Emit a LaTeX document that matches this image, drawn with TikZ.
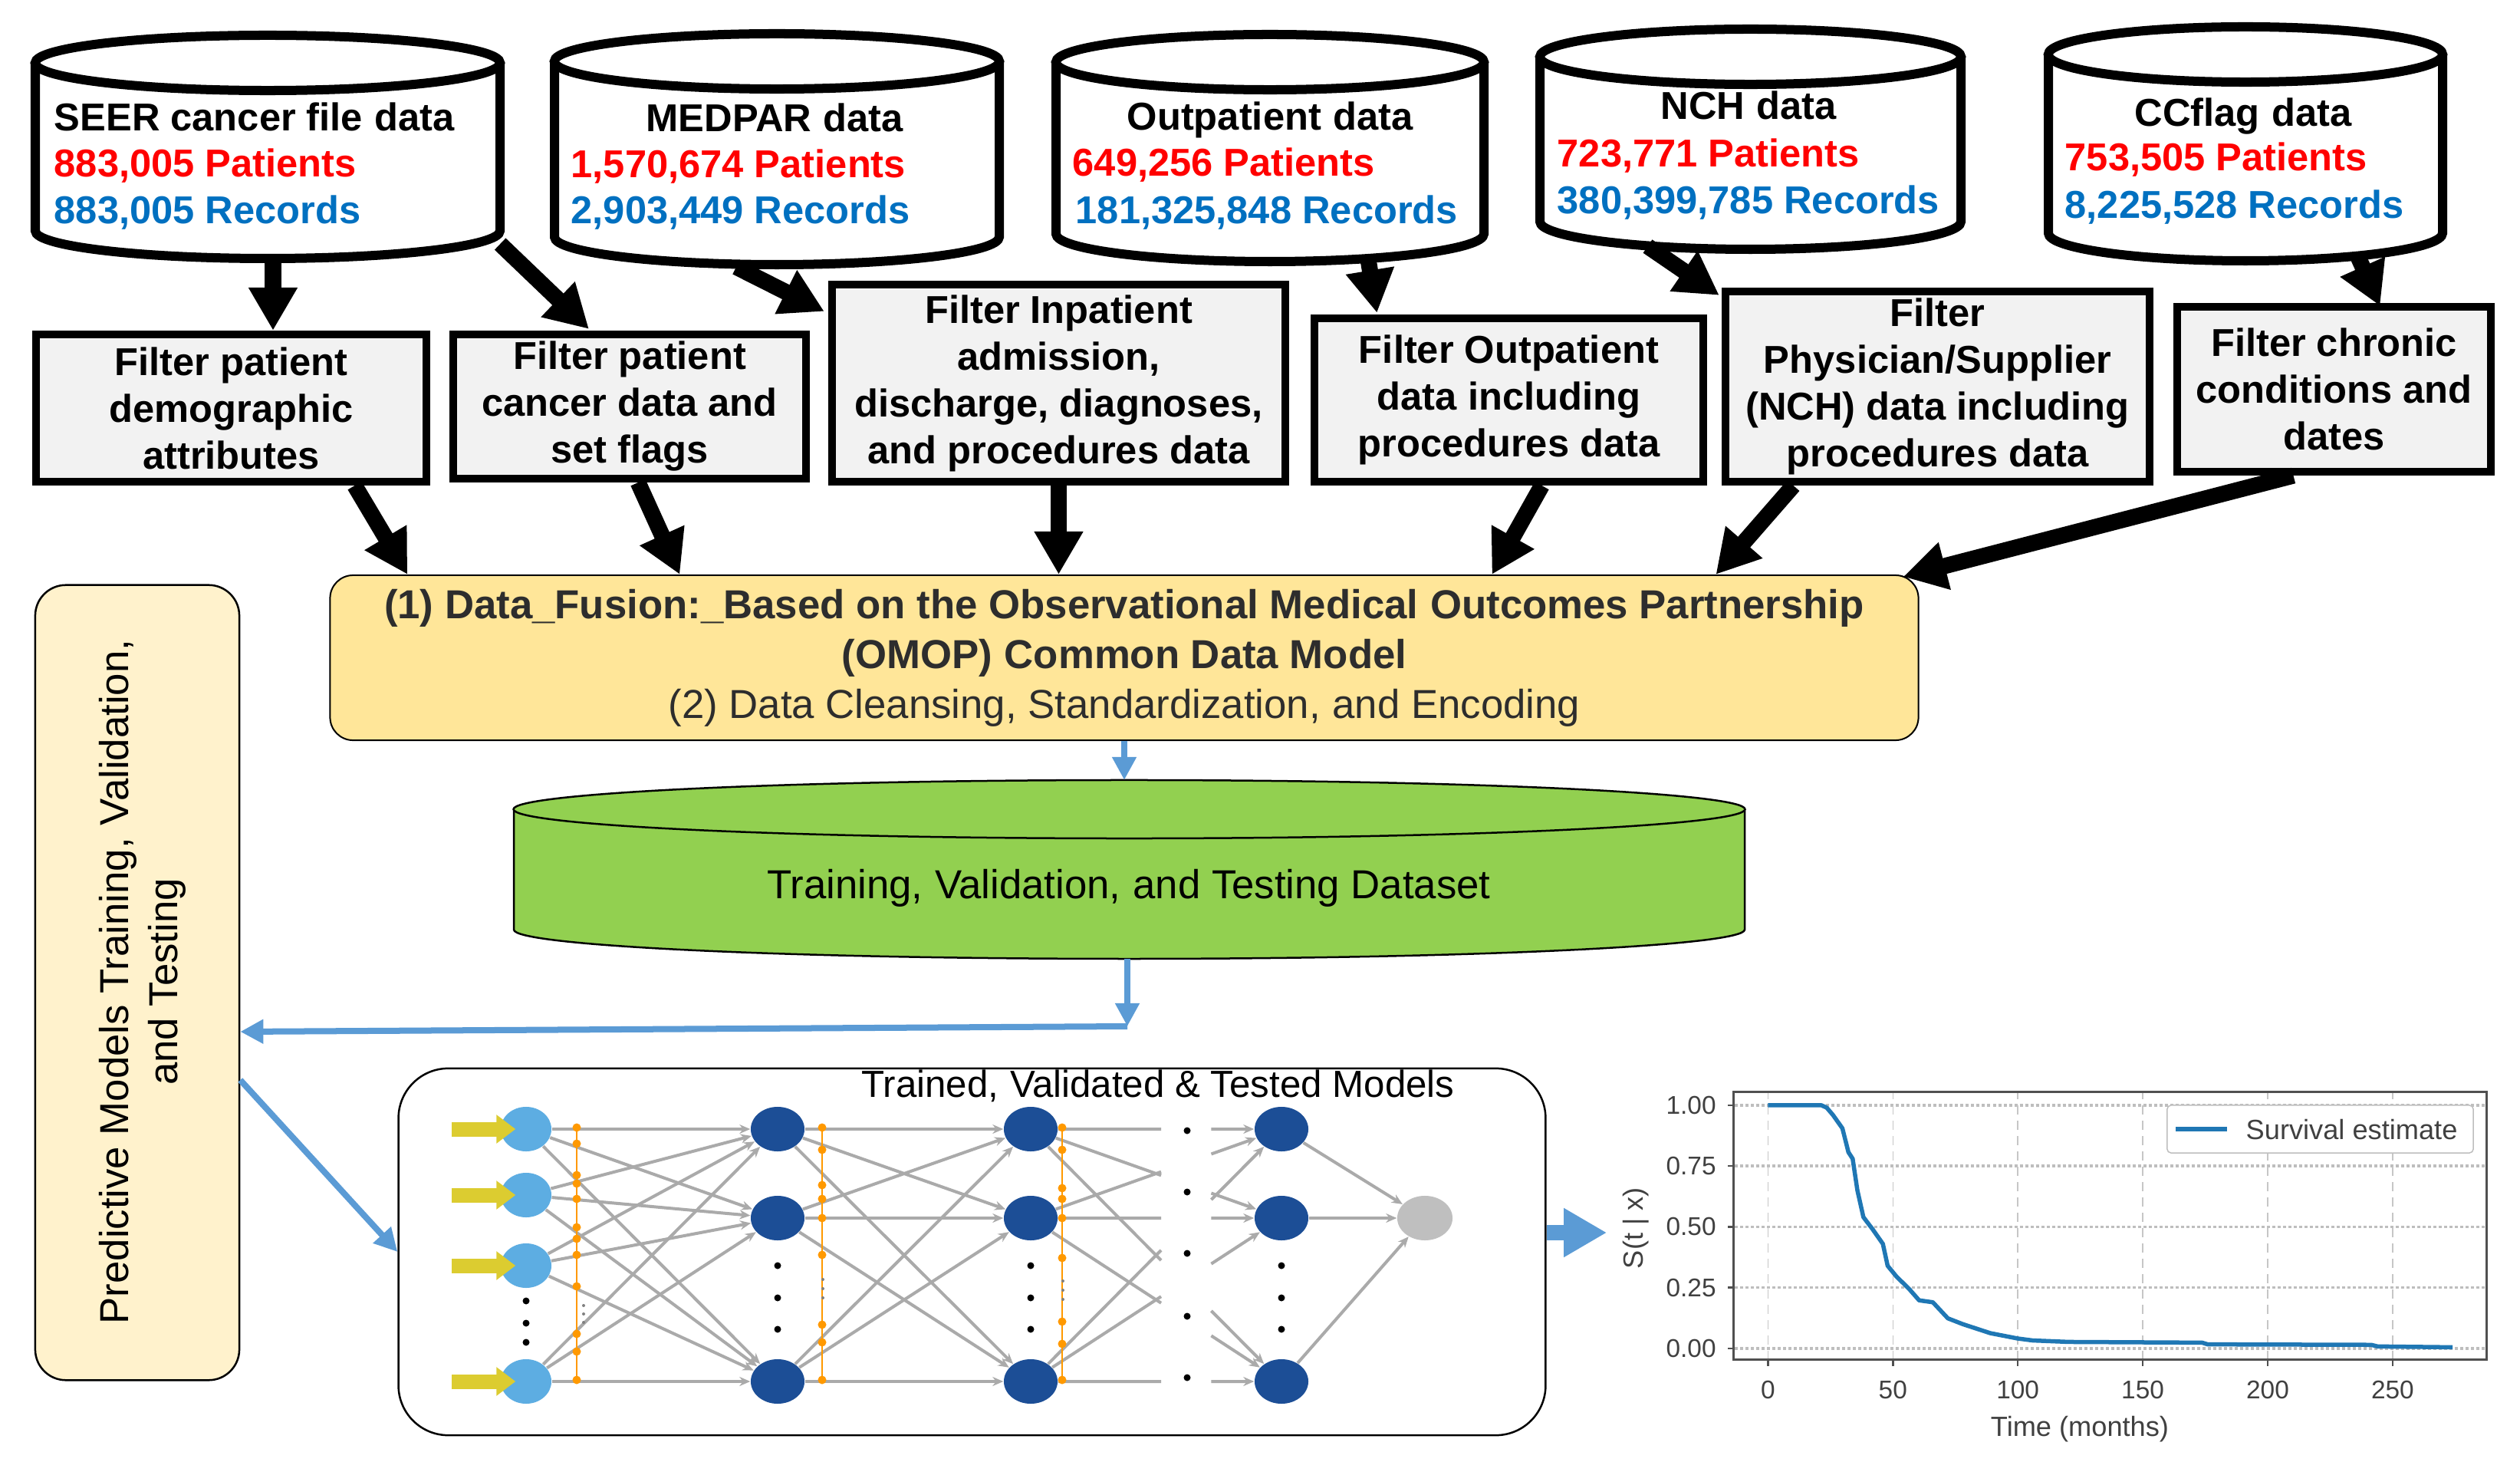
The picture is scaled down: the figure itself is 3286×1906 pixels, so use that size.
\documentclass[tikz,border=0pt]{standalone}
\usepackage{fontspec}
\setmainfont{Liberation Sans}
\usetikzlibrary{arrows.meta,calc,shapes.geometric}

\definecolor{cred}{RGB}{255,0,0}
\definecolor{cblue}{RGB}{0,112,192}
\definecolor{boxgray}{RGB}{242,242,242}
\definecolor{fusionfill}{RGB}{255,230,153}
\definecolor{fusetext}{RGB}{45,45,45}
\definecolor{leftfill}{RGB}{255,242,204}
\definecolor{greenfill}{RGB}{146,208,80}
\definecolor{arrowblue}{RGB}{91,155,213}
\definecolor{inblue}{RGB}{93,173,226}
\definecolor{hidblue}{RGB}{28,78,150}
\definecolor{outgray}{RGB}{191,191,191}
\definecolor{edgegray}{RGB}{170,170,170}
\definecolor{nnorange}{RGB}{255,153,0}
\definecolor{inyellow}{RGB}{220,204,48}
\definecolor{curveblue}{RGB}{31,119,180}
\definecolor{axisgray}{RGB}{80,80,80}
\definecolor{gridgray}{RGB}{190,190,190}
\definecolor{plottext}{RGB}{64,64,64}

% database cylinder: name, L, R, top, bottom, ry, line style, fill
\newcommand\dbcyl[8]{%
 \pgfmathsetmacro\dbcx{(#2+#3)/2}%
 \pgfmathsetmacro\dbrx{(#3-#2)/200}%
 \pgfmathsetmacro\dbry{#6/100}%
 \pgfmathsetmacro\dbyc{#4+#6}%
 \pgfmathsetmacro\dbyd{#5-#6}%
 \pgfmathsetmacro\dbka{\dbyd+0.5523*#6}%
 \pgfmathsetmacro\dbkl{\dbcx-0.5523*(#3-#2)/2}%
 \pgfmathsetmacro\dbkr{\dbcx+0.5523*(#3-#2)/2}%
 \pgfmathsetmacro\dbmy{(#4+#5)/2}%
 \pgfmathsetmacro\dbw{(#3-#2)/100}%
 \pgfmathsetmacro\dbh{(#5-#4)/100}%
 \path[fill=#8] (#2,\dbyc) -- (#2,\dbyd) .. controls (#2,\dbka) and (\dbkl,#5) .. (\dbcx,#5) .. controls (\dbkr,#5) and (#3,\dbka) .. (#3,\dbyd) -- (#3,\dbyc) -- cycle;
 \draw[#7] (#2,\dbyc) -- (#2,\dbyd) .. controls (#2,\dbka) and (\dbkl,#5) .. (\dbcx,#5) .. controls (\dbkr,#5) and (#3,\dbka) .. (#3,\dbyd) -- (#3,\dbyc);
 \draw[#7, fill=#8] (\dbcx,\dbyc) ellipse [x radius=\dbrx cm, y radius=\dbry cm];
 \node[inner sep=0pt, outer sep=0pt, minimum width=\dbw cm, minimum height=\dbh cm] (#1) at (\dbcx,\dbmy) {};
}
\newcommand\wsp{\hspace{0.3em}}

\begin{document}
\begin{tikzpicture}[x=0.01cm, y=-0.01cm,
  cylline/.style={draw=black, line width=0.12cm},
  thinline/.style={draw=black, line width=0.025cm},
  fbox/.style={draw=black, line width=0.1cm, fill=boxgray, align=center, inner sep=0pt, font={\fontsize{14.4}{17.35}\selectfont\bfseries}},
  cyltxt/.style={inner sep=0pt, font={\fontsize{14.4}{17.35}\selectfont\bfseries}},
  blk/.style={draw=black, line width=0.21cm, -{Triangle[length=0.56cm,width=0.6cm]}},
  bluearr/.style={draw=arrowblue, line width=0.08cm, -{Triangle[length=0.3cm,width=0.3cm]}},
  bigblue/.style={draw=arrowblue, line width=0.2cm, -{Triangle[length=0.56cm,width=0.6cm]}},
  inn/.style={ellipse, fill=inblue, minimum width=0.66cm, minimum height=0.58cm, inner sep=0pt},
  hid/.style={ellipse, fill=hidblue, minimum width=0.70cm, minimum height=0.58cm, inner sep=0pt},
  outn/.style={ellipse, fill=outgray, minimum width=0.72cm, minimum height=0.58cm, inner sep=0pt},
  nnedge/.style={draw=edgegray, line width=0.04cm, -{Stealth[length=0.14cm,width=0.12cm]}},
  nnline/.style={draw=edgegray, line width=0.04cm},
  inarrow/.style={draw=inyellow, line width=0.19cm, -{Triangle[length=0.25cm,width=0.36cm]}},
  hgrid/.style={draw=gridgray, line width=0.035cm, dash pattern=on 0.04cm off 0.03cm},
  vgrid/.style={draw=gray!45, line width=0.015cm, dash pattern=on 0.12cm off 0.08cm},
  ptick/.style={inner sep=1pt, text=plottext, font={\fontsize{9.5}{11}\selectfont}},
  plab/.style={inner sep=0pt, text=plottext, font={\fontsize{10.3}{12}\selectfont}}
]
\useasboundingbox (0,0) rectangle (3286,1906);
\fill[white] (0,0) rectangle (3286,1906);

% ---------------- source cylinders ----------------
\dbcyl{seer}{46}{652}{46}{337}{36}{cylline}{white}
\dbcyl{medpar}{723}{1303}{44}{345}{36}{cylline}{white}
\dbcyl{outp}{1377}{1935}{45}{341}{36}{cylline}{white}
\dbcyl{nch}{2008}{2557}{38}{325}{36}{cylline}{white}
\dbcyl{ccflag}{2671}{3185}{35}{340}{36}{cylline}{white}

\node[cyltxt, anchor=base west] (seert) at (70,171) {SEER cancer file\wsp data};
\node[cyltxt, anchor=base west, text=cred] (seerp) at (70,231) {883,005 Patients};
\node[cyltxt, anchor=base west, text=cblue] (seerr) at (70,292) {883,005 Records};

\node[cyltxt, anchor=base] (medt) at (1010,172) {MEDPAR\wsp data};
\node[cyltxt, anchor=base west, text=cred] (medp) at (744,232) {1,570,674 Patients};
\node[cyltxt, anchor=base west, text=cblue] (medr) at (744,292) {2,903,449 Records};

\node[cyltxt, anchor=base] (outt) at (1656,170) {Outpatient\wsp data};
\node[cyltxt, anchor=base west, text=cred] (outpp) at (1398,230) {649,256 Patients};
\node[cyltxt, anchor=base west, text=cblue] (outr) at (1402,292) {181,325,848 Records};

\node[cyltxt, anchor=base] (ncht) at (2280,156) {NCH\wsp data};
\node[cyltxt, anchor=base west, text=cred] (nchp) at (2030,218) {723,771 Patients};
\node[cyltxt, anchor=base west, text=cblue] (nchr) at (2030,279) {380,399,785 Records};

\node[cyltxt, anchor=base] (cct) at (2925,165) {CCflag\wsp data};
\node[cyltxt, anchor=base west, text=cred] (ccp) at (2692,223) {753,505 Patients};
\node[cyltxt, anchor=base west, text=cblue] (ccr) at (2692,285) {8,225,528 Records};

% ---------------- filter boxes ----------------
\node[fbox, minimum width=5.09cm, minimum height=1.92cm] (box1) at (301.5,532) {Filter patient\\demographic\\attributes};
\node[fbox, minimum width=4.60cm, minimum height=1.88cm] (box2) at (821,530) {Filter patient\\cancer data and\\set flags};
\node[fbox, minimum width=5.91cm, minimum height=2.57cm] (box3) at (1380.5,499.5) {Filter Inpatient\\admission,\\discharge, diagnoses,\\and procedures data};
\node[fbox, minimum width=5.07cm, minimum height=2.13cm] (box4) at (1967.5,521.5) {Filter Outpatient\\data including\\procedures data};
\node[fbox, minimum width=5.53cm, minimum height=2.48cm] (box5) at (2526.5,504) {Filter\\Physician/Supplier\\(NCH) data including\\procedures data};
\node[fbox, minimum width=4.09cm, minimum height=2.15cm] (box6) at (3043.5,507.5) {Filter chronic\\conditions and\\dates};

% ---------------- fusion box ----------------
\node[draw=black, line width=0.02cm, fill=fusionfill, rounded corners=0.3cm, minimum width=20.7cm, minimum height=2.15cm, align=center, inner sep=0pt, text=fusetext, font={\fontsize{15}{18.5}\selectfont}] (fusion) at (1466,857.5)
 {\textbf{(1) Data\_Fusion:\_Based on the Observational Medical\wsp Outcomes Partnership}\\\textbf{(OMOP)\wsp Common Data Model}\\(2) Data Cleansing, Standardization,\wsp and Encoding};

% ---------------- black arrows ----------------
\draw[blk] ($(seer.south)+(7,0)$) -- ($(box1.north)+(54.5,0)$);
\draw[blk] ($(seer.south east)+(0,-19)$) -- ($(box2.north)+(-53,-2)$);
\draw[blk] ($(medpar.south)+(-53,3)$) -- ($(box3.north west)+(-5,40)$);
\draw[blk] ($(outp.south)+(128,-3)$) -- ($(box4.north)+(-172,-2)$);
\draw[blk] ($(nch.south)+(-134,-4)$) -- ($(box5.north west)+(-3,10)$);
\draw[blk] ($(ccflag.south)+(147,-5)$) -- ($(box6.north)+(60,4)$);

\draw[blk] ($(box1.south)+(161,0)$) -- ($(fusion.north west)+(102,0)$);
\draw[blk] ($(box2.south)+(11,0)$) -- ($(fusion.north west)+(457,0)$);
\draw[blk] (box3.south) -- (box3.south |- fusion.north);
\draw[blk] ($(box4.south)+(43,0)$) -- ($(fusion.north west)+(1516,0)$);
\draw[blk] ($(box5.south)+(-188,0)$) -- ($(fusion.north west)+(1808,0)$);
\draw[blk] ($(box6.south)+(-53,0)$) -- ($(fusion.north east)+(-21,3)$);

% ---------------- dataset cylinder ----------------
\dbcyl{dataset}{670}{2275}{1017}{1250}{38}{thinline}{greenfill}
\node[inner sep=0pt, anchor=base, font={\fontsize{15}{18}\selectfont}] (dstxt) at (1472,1171) {Training,\wsp Validation,\wsp and Testing Dataset};
\draw[bluearr] (fusion.south) -- (fusion.south |- dataset.north);

% ---------------- left box ----------------
\node[draw=black, line width=0.025cm, fill=leftfill, rounded corners=0.4cm, minimum width=2.66cm, minimum height=10.36cm, inner sep=0pt] (leftbox) at (179,1281) {};
\node[rotate=90, align=center, inner sep=0pt, font={\fontsize{15}{18.2}\selectfont}] (lefttxt) at (186,1280) {Predictive Models Training,\wsp Validation,\\and Testing};

% ---------------- NN box ----------------
\node[draw=black, line width=0.025cm, fill=white, rounded corners=0.65cm, minimum width=14.95cm, minimum height=4.78cm, inner sep=0pt] (nnbox) at (1267.5,1632) {};
\node[inner sep=0pt, anchor=base, font={\fontsize{14}{17}\selectfont}] (nntitle) at (1510,1430) {Trained,\wsp Validated \& Tested Models};

% blue connectors
\coordinate (turn) at (1470,1338);
\draw[bluearr] (dataset.south -| turn) -- (turn);
\draw[bluearr] (turn) -- ($(leftbox.east)+(0,64)$);
\draw[bluearr] ($(leftbox.east)+(0,127)$) -- (nnbox.west);

% neural network nodes
\node[inn] (i1) at (686,1472) {};
\node[inn] (i2) at (686,1558) {};
\node[inn] (i3) at (686,1650) {};
\node[inn] (i4) at (686,1801) {};
\node[hid] (ha) at (1014,1472) {};
\node[hid] (hb) at (1014,1588) {};
\node[hid] (hc) at (1014,1801) {};
\node[hid] (ja) at (1344,1472) {};
\node[hid] (jb) at (1344,1588) {};
\node[hid] (jc) at (1344,1801) {};
\node[hid] (ka) at (1671,1472) {};
\node[hid] (kb) at (1671,1588) {};
\node[hid] (kc) at (1671,1801) {};
\node[outn] (onode) at (1858,1588) {};

\foreach \a in {i1,i2,i3,i4} \foreach \b in {ha,hb,hc} \draw[nnedge] (\a) -- (\b);
\foreach \a in {ha,hb,hc} \foreach \b in {ja,jb,jc} \draw[nnedge] (\a) -- (\b);
\foreach \a in {ja,jb,jc} \foreach \b in {ka,kb,kc} {
  \draw[nnline] (\a) -- ($(\a)!0.52!(\b)$);
  \draw[nnedge] ($(\a)!0.72!(\b)$) -- (\b);
}
\foreach \a in {ka,kb,kc} \draw[nnedge] (\a) -- (onode);

% orange columns
\draw[nnorange, line width=0.02cm] (752,1470) -- (752,1799);
\foreach \yv in {1470,1491,1532,1543,1563,1600,1615,1636,1677,1739,1762,1799} \fill[nnorange] (752,\yv) circle[radius=0.055cm];
\draw[nnorange, line width=0.02cm] (1072,1470) -- (1072,1799);
\foreach \yv in {1470,1499,1545,1563,1588,1636,1727,1750,1799} \fill[nnorange] (1072,\yv) circle[radius=0.055cm];
\draw[nnorange, line width=0.02cm] (1385,1470) -- (1385,1799);
\foreach \yv in {1470,1499,1549,1563,1588,1640,1723,1752,1799} \fill[nnorange] (1385,\yv) circle[radius=0.055cm];
\foreach \yv in {1702,1713,1724} \fill[gray] (761,\yv) circle[radius=0.02cm];
\foreach \yv in {1668,1680,1692} \fill[gray] (1073,\yv) circle[radius=0.02cm];
\foreach \yv in {1670,1682,1694} \fill[gray] (1386,\yv) circle[radius=0.02cm];

% black dots
\foreach \yv in {1696,1725,1750} \fill (686,\yv) circle[radius=0.045cm];
\foreach \xv in {1014,1344,1671} \foreach \yv in {1650,1692,1733} \fill (\xv,\yv) circle[radius=0.045cm];
\foreach \yv in {1474,1554,1634,1716,1796} \fill (1548,\yv) circle[radius=0.045cm];

% yellow input arrows
\foreach \a in {i1,i2,i3,i4} \draw[inarrow] ($(\a.west)+(-63,0)$) -- ($(\a.west)+(20,0)$);

% ---------------- survival plot ----------------
\begin{scope}[shift={(23.04cm,-17.57cm)}, x=0.03256cm, y=3.17cm]
  \foreach \sv in {0,0.25,0.5,0.75,1} \draw[hgrid] (-13.2,\sv) -- (288.1,\sv);
  \foreach \tv in {0,50,100,150,200,250} \draw[vgrid] (\tv,-0.0473) -- (\tv,1.0505);
  \foreach \sv/\lab/\nm in {0/0.00/a,0.25/0.25/b,0.5/0.50/c,0.75/0.75/d,1/1.00/e} {
    \draw[axisgray, line width=0.025cm] (-13.2,\sv) -- (-16,\sv);
    \node[ptick, anchor=east] (yl\nm) at (-19.5,\sv) {\lab};
  }
  \foreach \tv in {0,50,100,150,200,250} {
    \draw[axisgray, line width=0.025cm] (\tv,-0.0473) -- (\tv,-0.072);
    \node[ptick, anchor=base] (xl\tv) at (\tv,-0.205) {\tv};
  }
  \draw[curveblue, line width=0.055cm, line join=round] plot coordinates {
    (0,1) (21.3,1) (23.5,0.99) (26,0.96) (29.8,0.905) (32.2,0.807) (33.9,0.78)
    (35.8,0.65) (38.2,0.54) (41.9,0.49) (46,0.43) (47.9,0.34) (51.5,0.295)
    (56.4,0.246) (60.5,0.198) (66,0.19) (72,0.124) (78,0.10) (89,0.063)
    (100,0.041) (106,0.033) (120.5,0.027) (173.8,0.024) (176,0.017)
    (241.5,0.015) (244,0.0085) (274,0.005)};
\end{scope}
\node[draw=gridgray, line width=0.015cm, fill=white, rounded corners=0.05cm, minimum width=3.99cm, minimum height=0.62cm, inner sep=0pt] (legend) at (3025.5,1472) {};
\draw[curveblue, line width=0.055cm] ($(legend.west)+(12,0)$) -- ($(legend.west)+(79,0)$);
\node[plab, anchor=base west] (legtxt) at (2928,1485) {Survival estimate};
\node[draw=axisgray, line width=0.03cm, minimum width=9.81cm, minimum height=3.48cm, inner sep=0pt] (plotframe) at (2751.5,1598) {};
\node[plab, anchor=base] (xlabel) at (2712,1872) {Time (months)};
\node[plab, rotate=90] (ylab) at (2133,1601) {S(t | x)};

\draw[bigblue] ($(nnbox.east)+(0,-25)$) -- ($(plotframe.west)+(-164,9)$);
\end{tikzpicture}
\end{document}
